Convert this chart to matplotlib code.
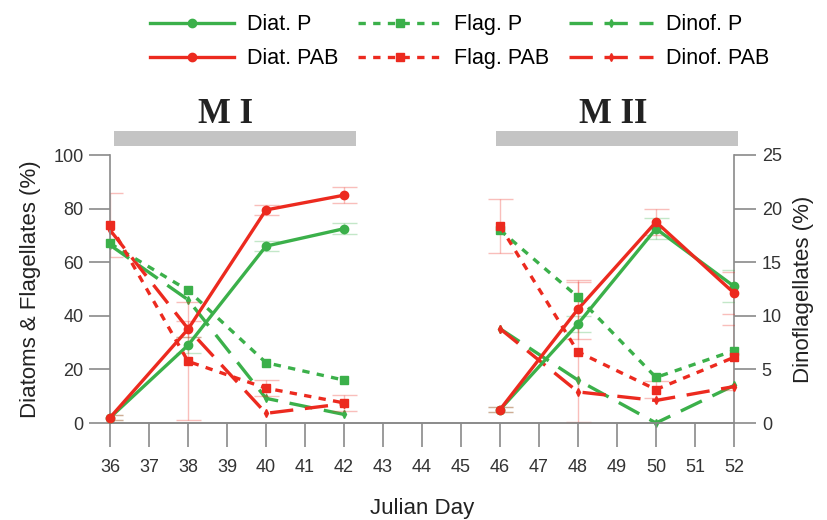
import numpy as np
import matplotlib as mpl
mpl.use('Agg')
import matplotlib.pyplot as plt
from matplotlib.patches import Rectangle
from matplotlib.transforms import blended_transform_factory
from matplotlib import font_manager

names = {f.name for f in font_manager.fontManager.ttflist}
main_font = 'Liberation Sans Narrow' if 'Liberation Sans Narrow' in names else 'Liberation Sans'
plt.rcParams['font.family'] = [main_font, 'DejaVu Sans']

# sampling days of the two experiments
days_1 = [36, 38, 40, 42]
days_2 = [46, 48, 50, 52]

# diatoms & flagellates (%), left axis
diat_p_1 = [2, 29, 66, 72.5]
diat_p_2 = [5, 37, 72.5, 51]
diat_pab_1 = [2, 35, 79.5, 85]
diat_pab_2 = [5, 42.5, 75, 48.5]
flag_p_1 = [67, 49.5, 22.5, 16]
flag_p_2 = [72, 47, 17, 27]
flag_pab_1 = [74, 23, 13, 7.5]
flag_pab_2 = [73.5, 26.5, 12.5, 24.5]

# dinoflagellates (%), right axis
dinof_p_1 = [16.6, 11.5, 2.3, 0.8]
dinof_p_2 = [8.8, 4.0, 0.0, 3.5]
dinof_pab_1 = [18.0, 8.8, 0.9, 1.8]
dinof_pab_2 = [8.8, 2.9, 2.1, 3.4]

# standard deviations (faint error bars)
flag_pab_err_1 = [12, 22, 3, 3]
flag_pab_err_2 = [10, 26, 3, 12]
diat_pab_err_1 = [1, 3, 2, 3]
diat_pab_err_2 = [1, 11, 5, 8]
diat_p_err_1 = [1, 3, 2, 2]
diat_p_err_2 = [1, 3, 4, 6]

periods = ['M I', 'M II']
period_span = [(36.1, 42.3), (45.9, 52.1)]
period_label_x = [38.95, 48.9]

green = '#3bb04a'
red = '#ec2a1f'

fig = plt.figure(figsize=(8.28, 5.2), dpi=100)
ax = fig.add_axes([110/828, 97/520, 624/828, 268/520])
ax2 = ax.twinx()

def series(axis, xs_list, ys_list, errs, color, marker, ms, dashes=None, label=None):
    line = None
    for i, (xs, ys) in enumerate(zip(xs_list, ys_list)):
        if errs is not None:
            axis.errorbar(xs, ys, yerr=errs[i], fmt='none', ecolor=color, alpha=0.3,
                          elinewidth=1, capsize=9, capthick=1, zorder=2)
        kw = dict(color=color, lw=2.4, marker=marker, ms=ms, mec=color, mfc=color,
                  clip_on=False, zorder=4)
        if dashes is not None:
            kw['dashes'] = dashes
        else:
            kw['ls'] = '-'
        l, = axis.plot(xs, ys, label=label if i == 0 else None, **kw)
        if line is None:
            line = l
    return line

h_dp = series(ax, [days_1, days_2], [diat_p_1, diat_p_2], [diat_p_err_1, diat_p_err_2],
              green, 'o', 6, label='Diat. P')
h_dpab = series(ax, [days_1, days_2], [diat_pab_1, diat_pab_2], [diat_pab_err_1, diat_pab_err_2],
                red, 'o', 6, label='Diat. PAB')
h_fp = series(ax, [days_1, days_2], [flag_p_1, flag_p_2], None,
              green, 's', 6, dashes=(2.2, 2.2), label='Flag. P')
h_fpab = series(ax, [days_1, days_2], [flag_pab_1, flag_pab_2], [flag_pab_err_1, flag_pab_err_2],
                red, 's', 6, dashes=(2.2, 2.2), label='Flag. PAB')
h_dnp = series(ax2, [days_1, days_2], [dinof_p_1, dinof_p_2], None,
               green, 'd', 4, dashes=(7, 3.5), label='Dinof. P')
h_dnpab = series(ax2, [days_1, days_2], [dinof_pab_1, dinof_pab_2], None,
                 red, 'd', 4, dashes=(7, 3.5), label='Dinof. PAB')

ax.set_xlim(36, 52)
ax.set_ylim(0, 100)
ax2.set_ylim(0, 25)
ax.set_xticks(np.arange(36, 53))
ax.set_yticks(np.arange(0, 101, 20))
ax2.set_yticks(np.arange(0, 26, 5))

spine_col = '#8a8a8a'
for a in (ax, ax2):
    a.spines['top'].set_visible(False)
    for s in ('left', 'right', 'bottom'):
        a.spines[s].set_color(spine_col)
        a.spines[s].set_linewidth(1.2)
    a.tick_params(axis='both', colors=spine_col, labelcolor='#333333', labelsize=13,
                  width=1.2, direction='out')
ax.tick_params(axis='y', length=15, pad=4)
ax2.tick_params(axis='y', length=16, pad=4)
ax.tick_params(axis='x', length=17, pad=9)
ax2.spines['left'].set_visible(False)
ax.spines['right'].set_visible(False)
ax.patch.set_visible(False)
ax.set_zorder(ax2.get_zorder() + 1)

ax.set_ylabel('Diatoms & Flagellates (%)', fontsize=16, color='#222222', labelpad=9)
ax2.set_ylabel('Dinoflagellates (%)', fontsize=16, color='#222222', rotation=90, labelpad=8)
ax.set_xlabel('Julian Day', fontsize=16, color='#222222', labelpad=16)

# experiment period bars above the plot
trans = blended_transform_factory(ax.transData, ax.transAxes)
for name, (x0, x1), xt in zip(periods, period_span, period_label_x):
    ax.add_patch(Rectangle((x0, 1.034), x1 - x0, 0.056, transform=trans,
                           color='#c4c4c4', clip_on=False, lw=0))
    ax.text(xt, 1.15, name, transform=trans, ha='center', va='center',
            fontsize=25, fontweight='bold', family='Liberation Serif', color='#222222')

handles = [h_dp, h_dpab, h_fp, h_fpab, h_dnp, h_dnpab]
fig.legend(handles, [h.get_label() for h in handles], ncol=3, loc='upper center',
           bbox_to_anchor=(0.555, 1.01), frameon=False, fontsize=15.5, handlelength=3.9,
           columnspacing=0.9, handletextpad=0.6, labelspacing=0.6)

fig.savefig('out.png', dpi=100)
